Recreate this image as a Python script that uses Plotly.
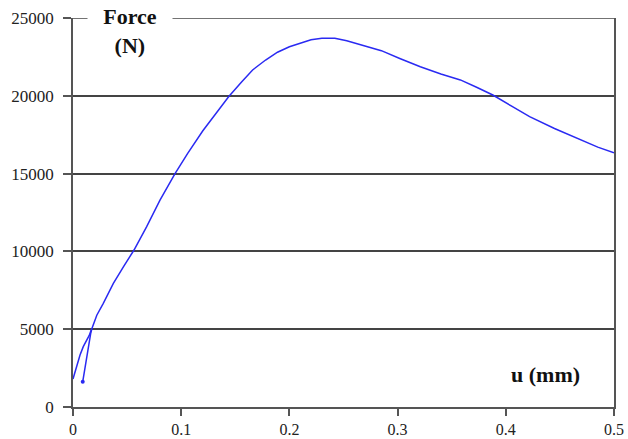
import plotly.graph_objects as go

# Initial loading branch near the origin
u_start = [0.0, 0.0018, 0.0034, 0.005, 0.0065, 0.0095, 0.0127, 0.0150, 0.0168]
f_start = [1800, 2250, 2700, 3000, 3340, 3880, 4300, 4600, 4950]

# Main force-displacement curve
u_main = [0.009, 0.0105, 0.012, 0.0142, 0.0164, 0.0175, 0.022, 0.028, 0.0373,
          0.047, 0.0564, 0.0681, 0.0804, 0.0943, 0.106, 0.12, 0.133, 0.144,
          0.156, 0.166, 0.178, 0.189, 0.2, 0.21, 0.22, 0.23, 0.242, 0.253,
          0.262, 0.271, 0.285, 0.302, 0.321, 0.34, 0.358, 0.373, 0.388, 0.405,
          0.422, 0.445, 0.469, 0.485, 0.5]
f_main = [1630, 2300, 2810, 3660, 4740, 5050, 5900, 6660, 7950,
          9050, 10090, 11590, 13300, 15000, 16300, 17750, 18950, 19950,
          20900, 21660, 22300, 22800, 23150, 23370, 23600, 23700, 23700, 23540,
          23350, 23160, 22900, 22400, 21870, 21400, 21020, 20550, 20050, 19350,
          18660, 17900, 17160, 16700, 16340]

x_ticks = [0, 0.1, 0.2, 0.3, 0.4, 0.5]
x_tick_text = ["0", "0.1", "0.2", "0.3", "0.4", "0.5"]
y_ticks = [0, 5000, 10000, 15000, 20000, 25000]
y_tick_text = ["0", "5000", "10000", "15000", "20000", "25000"]

SERIF = "Liberation Serif"
BLUE = "#2a2af2"
AXIS = "#555555"
GRID = "#444444"

fig = go.Figure()
fig.add_trace(go.Scatter(x=u_start, y=f_start, mode="lines",
                         line=dict(color=BLUE, width=1.5), showlegend=False,
                         hoverinfo="skip"))
fig.add_trace(go.Scatter(x=u_main, y=f_main, mode="lines",
                         line=dict(color=BLUE, width=1.5), showlegend=False))
fig.add_trace(go.Scatter(x=u_main[:1], y=f_main[:1], mode="markers",
                         marker=dict(color=BLUE, size=4), showlegend=False))

fig.update_xaxes(range=[0, 0.5], tickvals=x_ticks, ticktext=x_tick_text,
                 showgrid=False, zeroline=False, showline=True, automargin=False,
                 linecolor=AXIS, linewidth=1.5,
                 ticks="outside", ticklen=7, tickwidth=1.5, tickcolor=AXIS,
                 tickfont=dict(family=SERIF, size=16, color="#222222"))
fig.update_yaxes(range=[0, 25000], tickvals=y_ticks, ticktext=y_tick_text,
                 showgrid=True, gridcolor=GRID, gridwidth=1.5, automargin=False,
                 zeroline=False, showline=True, mirror=True,
                 linecolor=AXIS, linewidth=1.5,
                 ticks="outside", ticklen=8, tickwidth=1.5, tickcolor=AXIS,
                 ticklabelstandoff=6,
                 tickfont=dict(family=SERIF, size=17, color="#222222"))

# Top grid line at the upper end of the force axis
fig.add_shape(type="line", xref="x", yref="y", x0=0, x1=0.5, y0=25000, y1=25000,
              line=dict(color=GRID, width=1.5), layer="below")

fig.add_annotation(x=0.053, y=24150, xref="x", yref="y", text="<b>Force<br>(N)</b>",
                   showarrow=False, bgcolor="white", width=82, align="center",
                   font=dict(family=SERIF, size=22, color="#111111"))
fig.add_annotation(x=0.437, y=2100, xref="x", yref="y", text="<b>u (mm)</b>",
                   showarrow=False, xanchor="center",
                   font=dict(family=SERIF, size=22, color="#111111"))

fig.update_layout(width=628, height=439,
                  margin=dict(l=73, r=14, t=18, b=32),
                  paper_bgcolor="white", plot_bgcolor="white")

fig.write_html("out.html")
